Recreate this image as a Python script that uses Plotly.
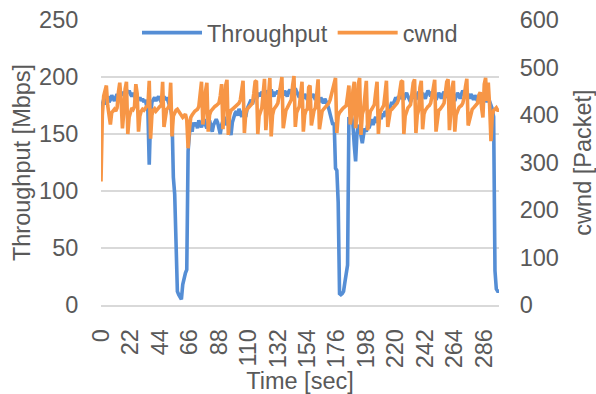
import plotly.graph_objects as go

throughput = [
    172, 178, 180, 176, 181, 183, 178, 180, 184, 182,
    179, 182, 185, 183, 186, 184, 187, 185, 188, 189,
    186, 188, 185, 183, 186, 184, 181, 183, 180, 182,
    179, 181, 178, 180, 176, 170, 123, 165, 178, 180,
    182, 179, 181, 183, 180, 178, 181, 183, 180, 182,
    179, 176, 172, 165, 112, 97, 60, 12, 9, 7,
    5, 18, 25, 28, 31, 135, 150, 158, 152, 160,
    157, 160, 155, 162, 158, 156, 160, 163, 158, 155,
    160, 162, 157, 152, 158, 161, 163, 160, 156, 150,
    158, 163, 165, 160, 158, 162, 155, 149, 160, 165,
    168, 170, 166, 172, 168, 165, 170, 168, 165, 172,
    175, 178, 180, 176, 182, 185, 181, 184, 186, 183,
    187, 185, 182, 186, 188, 184, 186, 189, 185, 183,
    187, 185, 188, 186, 190, 187, 184, 188, 186, 183,
    187, 189, 186, 184, 188, 190, 187, 185, 182, 186,
    184, 181, 185, 183, 180, 184, 186, 182, 185, 183,
    180, 183, 181, 178, 182, 180, 177, 181, 179, 176,
    172, 168, 162, 158, 160, 120, 118, 90, 10, 9,
    10, 12, 20, 30, 35, 165, 160, 165, 158, 140,
    126, 150, 158, 155, 150, 142, 150, 155, 152, 158,
    155, 160, 163, 158, 162, 165, 160, 163, 166, 163,
    168, 165, 170, 168, 172, 170, 174, 178, 176, 180,
    182, 179, 183, 181, 185, 182, 180, 184, 186, 183,
    181, 178, 182, 185, 183, 180, 184, 187, 185, 182,
    186, 184, 181, 185, 188, 186, 183, 187, 185, 182,
    180, 183, 186, 184, 181, 185, 187, 184, 182, 186,
    183, 180, 184, 182, 179, 183, 186, 184, 181, 185,
    188, 186, 183, 187, 184, 181, 185, 183, 180, 184,
    182, 179, 183, 185, 182, 180, 183, 181, 178, 182,
    179, 176, 172, 165, 30, 14, 12, 12,
]

cwnd = [
    260, 400, 440, 455, 462, 420, 395, 380, 405, 410,
    412, 408, 415, 448, 468, 430, 372, 405, 455, 470,
    360, 395, 410, 415, 412, 418, 465, 445, 365, 398,
    408, 412, 410, 415, 418, 420, 472, 350, 400, 410,
    413, 408, 412, 415, 418, 420, 470, 375, 402, 412,
    415, 420, 468, 355, 398, 405, 410, 412, 408, 405,
    400, 395, 398, 402, 390, 330, 370, 395, 400, 405,
    408, 410, 412, 418, 440, 470, 380, 405, 450, 468,
    365, 400, 408, 412, 415, 418, 420, 422, 425, 440,
    465, 370, 420, 462, 474, 358, 400, 410, 412, 415,
    418, 420, 422, 425, 432, 460, 472, 362, 403, 412,
    415, 418, 420, 425, 445, 470, 472, 360, 398, 410,
    415, 445, 476, 368, 410, 460, 478, 355, 400, 412,
    415, 420, 425, 440, 465, 480, 372, 395, 410, 415,
    420, 425, 432, 462, 482, 375, 405, 412, 418, 445,
    470, 365, 400, 410, 412, 458, 462, 378, 402, 410,
    415, 445, 475, 370, 395, 408, 412, 415, 418, 420,
    425, 432, 445, 460, 470, 478, 362, 398, 405, 410,
    412, 415, 418, 420, 440, 462, 380, 400, 452, 470,
    372, 398, 465, 478, 358, 402, 412, 455, 472, 368,
    398, 408, 412, 418, 422, 448, 470, 360, 402, 410,
    415, 420, 445, 472, 375, 400, 410, 412, 415, 418,
    420, 425, 432, 455, 470, 472, 360, 398, 410, 415,
    418, 422, 445, 468, 475, 362, 400, 410, 458, 472,
    370, 402, 410, 415, 418, 420, 425, 440, 465, 474,
    365, 398, 410, 412, 418, 420, 425, 448, 470, 475,
    368, 402, 458, 472, 365, 400, 410, 415, 418, 420,
    425, 438, 460, 476, 378, 392, 405, 412, 415, 418,
    420, 425, 442, 448, 415, 395, 465, 478, 430, 468,
    420, 345, 400, 410, 412, 415, 410, 410,
]

time_t = list(range(len(throughput)))
time_c = list(range(len(cwnd)))
x_ticks = list(range(0, 287, 22))
x_tick_labels = [str(v) for v in x_ticks]

FONT = "Liberation Sans, Arial, sans-serif"
GREY = "#595959"
GRID = "#D9D9D9"
FS = 23.5

fig = go.Figure()
fig.add_trace(go.Scatter(
    x=time_t, y=throughput, name="Throughput", mode="lines",
    line=dict(color="#558ED5", width=3.6), yaxis="y",
))
fig.add_trace(go.Scatter(
    x=time_c, y=cwnd, name="cwnd", mode="lines",
    line=dict(color="#F79646", width=3.6), yaxis="y2",
))

fig.update_layout(
    width=596, height=394,
    margin=dict(l=101, r=97, t=20, b=89, autoexpand=False),
    paper_bgcolor="white", plot_bgcolor="white",
    font=dict(family=FONT, size=FS, color=GREY),
    showlegend=True,
    legend=dict(
        orientation="h", x=0.5, xanchor="center", y=0.955, yanchor="middle",
        bgcolor="rgba(0,0,0,0)", font=dict(size=FS, color=GREY),
        itemwidth=60, tracegroupgap=0,
    ),
    xaxis=dict(
        range=[0, len(throughput) - 1],
        tickmode="array", tickvals=x_ticks, ticktext=x_tick_labels,
        tickangle=-90, showgrid=False, zeroline=False,
        showline=True, linecolor=GRID, linewidth=1.5,
        ticks="outside", ticklen=13, tickcolor="rgba(0,0,0,0)",
        tickfont=dict(size=FS, color=GREY),
        title=dict(text="Time [sec]", font=dict(size=FS, color=GREY), standoff=0),
        automargin=False,
    ),
    yaxis=dict(
        range=[0, 250], dtick=50, tick0=0,
        showgrid=True, gridcolor=GRID, gridwidth=1.5, zeroline=False,
        showline=False,
        ticks="outside", ticklen=17, tickcolor="rgba(0,0,0,0)",
        tickfont=dict(size=FS, color=GREY),
        title=dict(text="Throughput [Mbps]", font=dict(size=FS, color=GREY), standoff=1),
        automargin=False,
    ),
    yaxis2=dict(
        range=[0, 600], dtick=100, tick0=0, overlaying="y", side="right",
        showgrid=False, zeroline=False, showline=False,
        ticks="outside", ticklen=15, tickcolor="rgba(0,0,0,0)",
        tickfont=dict(size=FS, color=GREY),
        title=dict(text="cwnd [Packet]", font=dict(size=FS, color=GREY), standoff=21),
        automargin=False,
    ),
)

fig.write_html(
    "out.html",
    config={"displayModeBar": False},
    post_script="document.body.style.margin='0';document.body.style.overflow='hidden';",
)
